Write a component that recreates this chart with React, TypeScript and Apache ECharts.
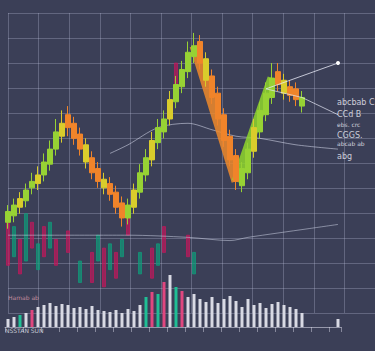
import { useEffect, useRef } from "react";
import * as echarts from "echarts";

const categories: string[] = Array.from({ length: 56 }, (_, i) => `T${i + 1}`);

const opens = [6, 9, 13, 16, 22, 24, 28, 33, 40, 46, 56, 52, 47, 42, 36, 31, 26, 24, 20, 15, 8, 13, 20, 28, 35, 43, 48, 54, 62, 69, 76, 83, 90, 82, 74, 66, 56, 46, 37, 23, 29, 39, 48, 56, 64, 76, 72, 69, 68, 60];
const closes = [11, 14, 17, 21, 25, 28, 34, 40, 48, 52, 50, 45, 40, 34, 29, 25, 22, 19, 13, 8, 14, 21, 29, 36, 44, 50, 54, 63, 70, 77, 85, 88, 80, 72, 64, 54, 44, 35, 25, 31, 40, 50, 58, 66, 73, 70, 66, 65, 63, 64];
const highs = [14, 17, 20, 24, 29, 32, 38, 44, 54, 58, 60, 55, 50, 45, 39, 34, 29, 27, 23, 18, 17, 24, 33, 40, 48, 54, 58, 67, 74, 81, 90, 94, 93, 85, 77, 69, 59, 49, 40, 34, 43, 54, 62, 71, 80, 80, 75, 72, 71, 67];
const lows = [3, 6, 10, 13, 19, 21, 25, 30, 37, 43, 46, 42, 37, 31, 26, 22, 19, 16, 10, 4, 5, 10, 17, 25, 32, 40, 45, 51, 59, 66, 73, 80, 77, 69, 61, 51, 41, 32, 21, 20, 26, 36, 45, 53, 61, 67, 63, 62, 60, 57];

// faint pink / teal "reflection" candles below the price action
const ghostOpen: (number | null)[] = [-14, 4, -18, 10, -6, -4, -10, 6, -14, null, -8, null, -12, null, -22, 0, -24, -4, -20, -2, 0, null, -8, null, -20, -4, -8, null, 68, null, -10, -8, null, null, null, null, null, null, null, null, null, null, null, null, null, null, null, null, null, null, null, null, null, null, null, null];
const ghostClose: (number | null)[] = [6, -10, -2, -12, 6, -16, 4, -6, -2, null, 2, null, -22, null, -8, -12, -6, -16, -8, -10, 8, null, -18, null, -6, -14, 4, null, 80, null, 0, -18, null, null, null, null, null, null, null, null, null, null, null, null, null, null, null, null, null, null, null, null, null, null, null, null];

const volumes: (number | null)[] = [8, 10, 12, 14, 17, 20, 22, 24, 21, 23, 22, 19, 20, 18, 21, 17, 16, 15, 17, 14, 18, 16, 22, 30, 35, 33, 45, 52, 40, 36, 30, 33, 28, 25, 30, 24, 28, 31, 26, 20, 28, 22, 24, 19, 23, 25, 22, 20, 18, 14, null, null, null, null, null, 8];

const trendDown: (number | null)[] = Array(56).fill(null).map((_, i) => (i === 31 ? 88 : i === 38 ? 25 : null));
const trendUp: (number | null)[] = Array(56).fill(null).map((_, i) => (i === 38 ? 25 : i === 44 ? 73 : null));

const maLine: (number | null)[] = [null, null, null, null, null, null, null, null, null, null, null, null, null, null, null, null, null, 38, null, null, 42, null, null, null, null, 50, null, null, null, null, 52, null, null, null, 49, null, null, null, 46, null, null, null, 45, null, null, null, null, null, 42, null, null, null, null, null, null, 40];
const signalLine: (number | null)[] = [null, null, null, null, null, null, null, null, null, null, null, null, null, null, null, null, null, null, null, null, null, null, null, null, null, null, null, null, null, null, null, null, null, null, null, null, null, null, null, null, null, null, null, 68, null, null, null, null, null, null, null, null, null, null, null, 80];
const fadeLine: (number | null)[] = [null, null, null, null, null, null, null, null, null, null, null, null, null, null, null, null, null, null, null, null, null, null, null, null, null, null, null, null, null, null, null, null, null, null, null, null, null, null, null, null, null, null, null, 68, null, null, null, null, null, 64, null, null, null, null, null, 56];
const baseCurve: (number | null)[] = [0, null, null, null, null, null, null, null, null, null, null, null, null, null, null, null, null, null, null, null, 0, null, null, null, null, null, null, null, null, null, -1, null, null, null, null, null, null, -2.5, null, null, -1, null, null, null, null, null, null, null, null, null, 3, null, null, null, null, 5];

const rightTexts = ["abcbab C", "CCd B", "ebs. crc", "CGGS.", "abcab ab", "abg"];
const leftTexts = ["Hamab ab", "NSSTAN SUN"];

const yellowIdx = [2, 5, 9, 13, 16, 21, 24, 27, 33, 41, 46];
const pinkVol = [4, 24, 26, 29];
const tealVol = [2, 23, 25, 28];

export default function App() {
  const ref = useRef<HTMLDivElement>(null);
  useEffect(() => {
    if (!ref.current) return;
    const chart = echarts.init(ref.current, null, { renderer: "svg" });
    const candleData = categories.map((_, i) =>
      i < opens.length
        ? {
            value: [opens[i], closes[i], lows[i], highs[i]],
            itemStyle: yellowIdx.includes(i)
              ? { color: "#d9cc2c", color0: "#d9cc2c", borderColor: "#d9cc2c", borderColor0: "#d9cc2c" }
              : undefined,
          }
        : { value: ["-", "-", "-", "-"] }
    );
    const ghostData = categories.map((_, i) =>
      ghostOpen[i] == null
        ? ["-", "-", "-", "-"]
        : [ghostOpen[i], ghostClose[i], Math.min(ghostOpen[i]!, ghostClose[i]!), Math.max(ghostOpen[i]!, ghostClose[i]!)]
    );
    const volData = volumes.map((v, i) => ({
      value: v,
      itemStyle: {
        color: pinkVol.includes(i) ? "#e0477f" : tealVol.includes(i) ? "#1fbf95" : "#d9dae4",
      },
    }));
    const thin = (color: string, w = 1, op = 0.6) => ({
      type: "line" as const,
      xAxisIndex: 0,
      yAxisIndex: 0,
      connectNulls: true,
      symbol: "none",
      smooth: 0.3,
      lineStyle: { color, width: w, opacity: op },
      silent: true,
    });
    chart.setOption({
      animation: false,
      backgroundColor: "#3b3f57",
      grid: [
        { left: 5, width: 336, top: 20, height: 269 },
        { left: 5, width: 336, top: 270, height: 57 },
        { left: 8, width: 372, top: 13, height: 300 },
      ],
      xAxis: [
        { type: "category", data: categories, gridIndex: 0, show: false, boundaryGap: true },
        {
          type: "category",
          data: categories,
          gridIndex: 1,
          boundaryGap: true,
          axisLine: { lineStyle: { color: "rgba(225,225,240,0.55)" } },
          axisTick: { show: true, interval: 2, length: 5, lineStyle: { color: "rgba(225,225,240,0.45)" } },
          axisLabel: { show: false },
        },
        {
          type: "value",
          gridIndex: 2,
          min: 0,
          max: 12,
          interval: 1,
          axisLine: { show: false },
          axisTick: { show: false },
          axisLabel: { show: false },
          splitLine: { show: true, lineStyle: { color: "rgba(200,205,235,0.28)", width: 1 } },
        },
      ],
      yAxis: [
        { type: "value", gridIndex: 0, min: -25, max: 100, show: false },
        { type: "value", gridIndex: 1, min: 0, max: 57, show: false },
        {
          type: "value",
          gridIndex: 2,
          min: 0,
          max: 12,
          interval: 1,
          axisLine: { show: false },
          axisTick: { show: false },
          axisLabel: { show: false },
          splitLine: { show: true, lineStyle: { color: "rgba(200,205,235,0.28)", width: 1 } },
        },
      ],
      series: [
        {
          name: "ghost",
          type: "candlestick",
          xAxisIndex: 0,
          yAxisIndex: 0,
          barWidth: 3,
          data: ghostData,
          itemStyle: { color: "#c2185b", color0: "#0f9d7a", borderColor: "#c2185b", borderColor0: "#0f9d7a", opacity: 0.7 },
          silent: true,
        },
        { name: "base", ...thin("#c9cde0", 1, 0.55), data: baseCurve },
        { name: "ma", ...thin("#d9dcef", 1, 0.55), data: maLine },
        {
          name: "trendDown",
          type: "line",
          xAxisIndex: 0,
          yAxisIndex: 0,
          connectNulls: true,
          symbol: "none",
          lineStyle: { color: "#f08a2a", width: 9, opacity: 0.85 },
          data: trendDown,
          z: 3,
        },
        {
          name: "trendUp",
          type: "line",
          xAxisIndex: 0,
          yAxisIndex: 0,
          connectNulls: true,
          symbol: "none",
          lineStyle: { color: "#8fd62c", width: 9, opacity: 0.85 },
          data: trendUp,
          z: 3,
        },
        {
          name: "price",
          type: "candlestick",
          xAxisIndex: 0,
          yAxisIndex: 0,
          barWidth: 6,
          data: candleData,
          itemStyle: { color: "#97d234", color0: "#f0842a", borderColor: "#97d234", borderColor0: "#f0842a", borderWidth: 1 },
          z: 4,
        },
        {
          name: "signal",
          type: "line",
          xAxisIndex: 0,
          yAxisIndex: 0,
          connectNulls: true,
          symbol: "circle",
          symbolSize: (_v: any, p: any) => (p.dataIndex === 55 ? 4 : 0),
          itemStyle: { color: "#ffffff" },
          lineStyle: { color: "#e6e8f5", width: 1, opacity: 0.8 },
          data: signalLine,
          z: 5,
        },
        { name: "fade", ...thin("#e6e8f5", 1, 0.7), smooth: false, data: fadeLine, z: 5 },
        {
          name: "volume",
          type: "bar",
          xAxisIndex: 1,
          yAxisIndex: 1,
          barWidth: 3,
          data: volData,
        },
      ],
      graphic: [
        ...rightTexts.map((t, i) => ({
          type: "text",
          left: 337,
          top: [98, 110, 121, 131, 140, 152][i],
          style: {
            text: t,
            fill: "#e8e9f2",
            font: `${i === 2 || i === 4 ? 6 : 8}px "DejaVu Sans"`,
            opacity: 0.85,
          },
        })),
        {
          type: "text",
          left: 8,
          top: 294,
          style: { text: leftTexts[0], fill: "#e0a0b0", font: '6px "DejaVu Sans"', opacity: 0.8 },
        },
        {
          type: "text",
          left: 5,
          top: 327,
          style: { text: leftTexts[1], fill: "#e8e9f2", font: '6px "DejaVu Sans"', opacity: 0.8 },
        },
      ],
    });
    return () => chart.dispose();
  }, []);
  return <div ref={ref} style={{ width: 375, height: 351, position: "absolute", left: 0, top: 0 }} />;
}
